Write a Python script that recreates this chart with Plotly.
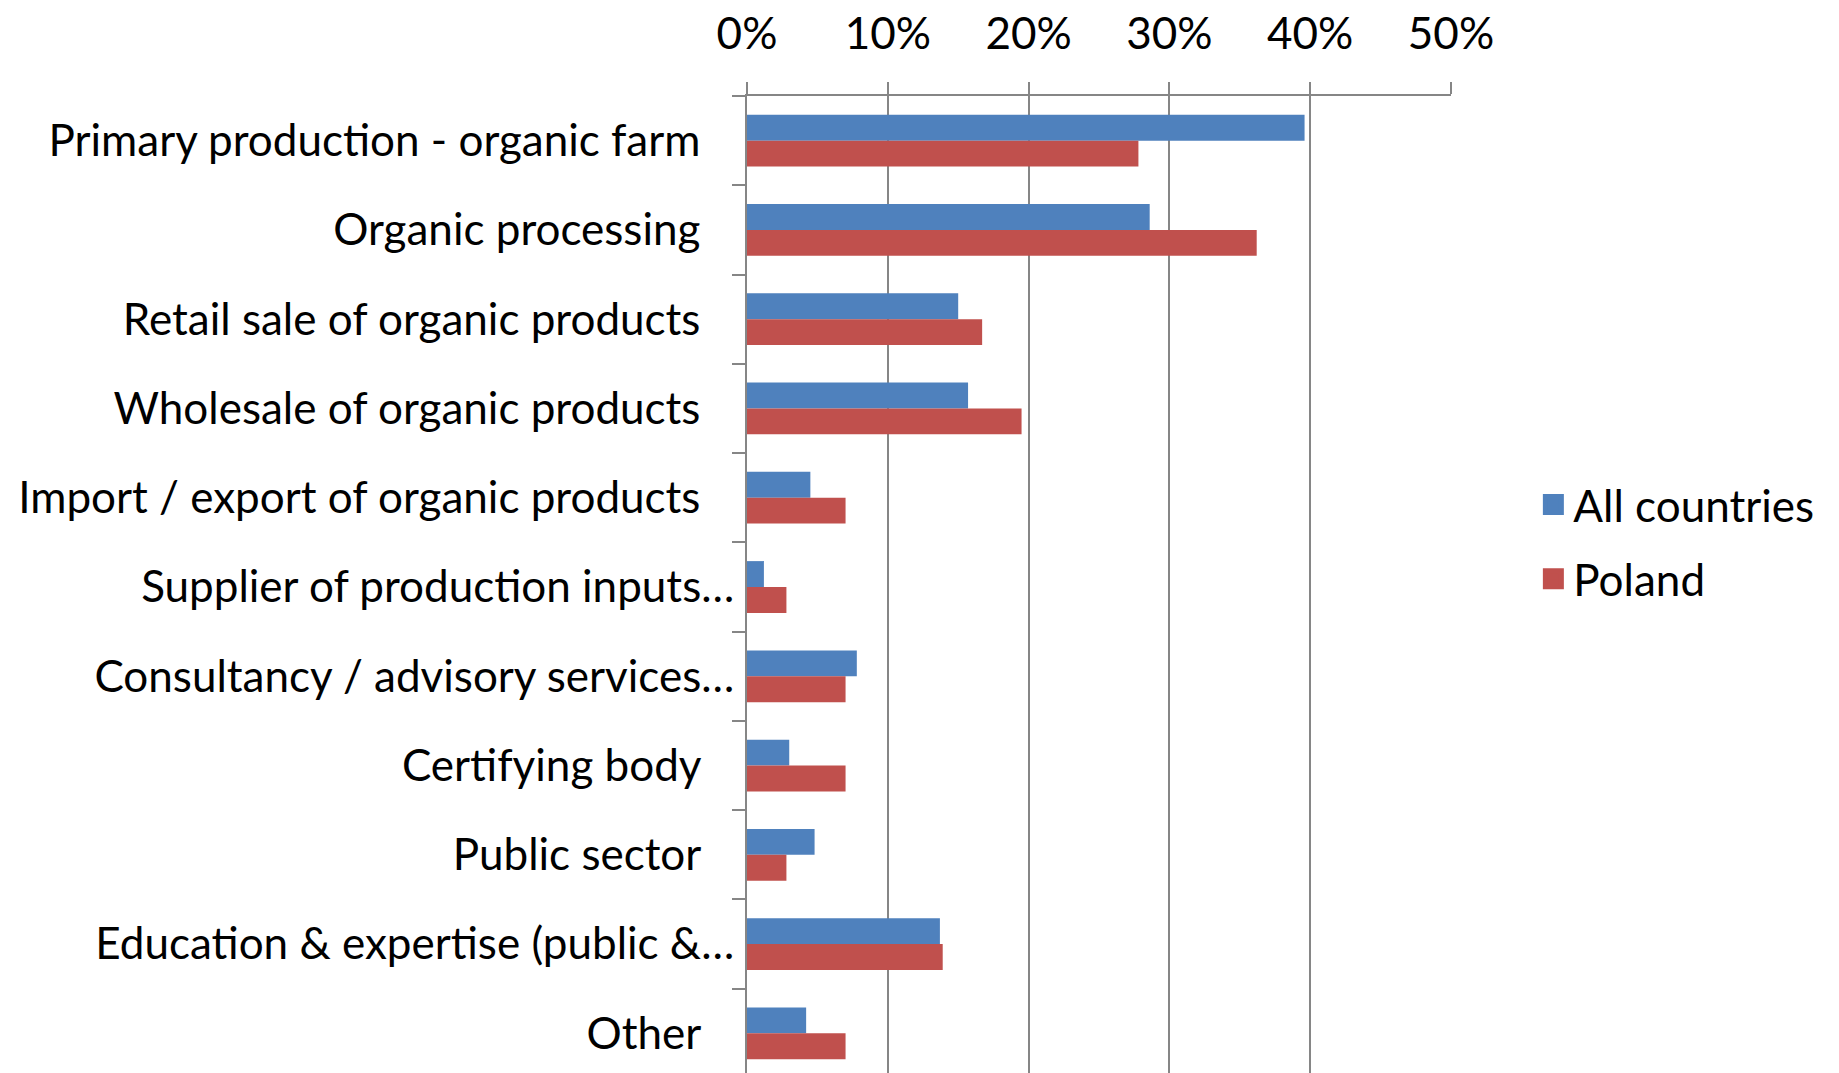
import plotly.graph_objects as go

# Sector of respondents, share of answers
CATEGORIAS = [
    "Primary production - organic farm",
    "Organic processing",
    "Retail sale of organic products",
    "Wholesale of organic products",
    "Import / export of organic products",
    "Supplier of production inputs…",
    "Consultancy / advisory services…",
    "Certifying body",
    "Public sector",
    "Education & expertise (public &…",
    "Other",
]
ALL_COUNTRIES = [39.6, 28.6, 15.0, 15.7, 4.5, 1.2, 7.8, 3.0, 4.8, 13.7, 4.2]
POLAND = [27.8, 36.2, 16.7, 19.5, 7.0, 2.8, 7.0, 7.0, 2.8, 13.9, 7.0]
X_TICKS = [0, 10, 20, 30, 40, 50]
X_TICK_LABELS = ["0%", "10%", "20%", "30%", "40%", "50%"]

AZUL = "#4F81BD"
ROJO = "#C0504D"
GRIS = "#868686"
FONT = dict(family="Lato, Carlito, sans-serif", size=44, color="#000000")

# labels that are not truncated sit a little further from the axis
etiquetas = [c if c.endswith("…") else c + "\u00a0\u00a0\u00a0" for c in CATEGORIAS]

fig = go.Figure()
for nombre, valores, color in [("All countries", ALL_COUNTRIES, AZUL),
                               ("Poland", POLAND, ROJO)]:
    fig.add_trace(go.Bar(
        y=CATEGORIAS, x=valores, name=nombre, orientation="h",
        marker=dict(color=color, line=dict(width=0)), showlegend=False,
    ))
    # legend-only entry, so the square swatch can be larger than the bar one
    fig.add_trace(go.Scatter(
        x=[None], y=[None], mode="markers", name=nombre, legendgroup=nombre,
        marker=dict(symbol="square", size=16, color=color,
                    line=dict(color=color, width=5)),
    ))

fig.update_layout(
    width=1839, height=1073,
    barmode="group", bargap=0.42, bargroupgap=0,
    paper_bgcolor="white", plot_bgcolor="white",
    font=FONT,
    margin=dict(l=739, r=396, t=88, b=3),
    legend=dict(
        x=1.117, xanchor="left", y=0.546, yanchor="middle",
        traceorder="grouped", tracegroupgap=14,
        font=dict(size=44), itemsizing="trace",
    ),
    showlegend=True,
)
fig.update_xaxes(
    side="top", range=[0, 50], tickvals=X_TICKS, ticktext=X_TICK_LABELS,
    showgrid=True, gridcolor=GRIS, gridwidth=2,
    showline=True, linecolor=GRIS, linewidth=2,
    ticks="outside", ticklen=12, tickcolor=GRIS, tickwidth=2,
    ticklabelstandoff=15, automargin=False,
    zeroline=False, fixedrange=True,
)
fig.update_yaxes(
    autorange="reversed", tickvals=CATEGORIAS, ticktext=etiquetas,
    tickson="boundaries", ticks="outside", ticklen=13,
    tickcolor=GRIS, tickwidth=2, ticklabelstandoff=2,
    showline=True, linecolor=GRIS, linewidth=2,
    showgrid=False, fixedrange=True, automargin=False,
)

fig.write_html("out.html")
